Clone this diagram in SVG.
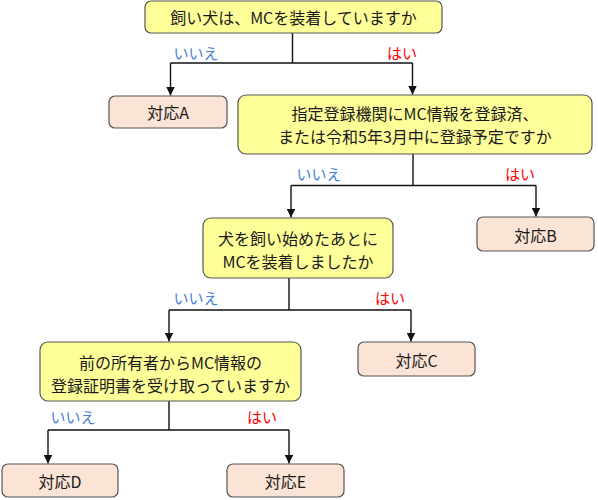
<svg xmlns="http://www.w3.org/2000/svg" width="598" height="500" viewBox="0 0 598 500">
<defs>
<style>
.q{fill:#FFFF99;stroke:#555;stroke-width:1.2}
.a{fill:#FBE4D5;stroke:#555;stroke-width:1.2}
.t{font-family:"Noto Sans CJK JP","Noto Sans",sans-serif;font-size:16px;fill:#1a1a1a;text-anchor:middle;dominant-baseline:central}
.no{font-family:"Noto Sans CJK JP","Noto Sans",sans-serif;font-size:15px;fill:#4A7FD6;text-anchor:middle;dominant-baseline:central}
.yes{font-family:"Noto Sans CJK JP","Noto Sans",sans-serif;font-size:15px;fill:#FF0000;text-anchor:middle;dominant-baseline:central}
.c{fill:none;stroke:#111;stroke-width:1.4}
</style>
<marker id="ah" viewBox="0 0 10 10" refX="10" refY="5" markerWidth="9" markerHeight="9" markerUnits="userSpaceOnUse" orient="auto">
<path d="M0,0 L10,5 L0,10 Z" fill="#111"/>
</marker>
</defs>
<rect width="598" height="500" fill="#fff"/>
<g id="connectors">
<path class="c" d="M292.5,33 V63"/>
<path class="c" d="M170.5,63 H412.5"/>
<path class="c" d="M170.5,63 V95.5" marker-end="url(#ah)"/>
<path class="c" d="M412.5,63 V94.5" marker-end="url(#ah)"/>
<path class="c" d="M413,154 V185.5"/>
<path class="c" d="M291,185.5 H536"/>
<path class="c" d="M291,185.5 V217.5" marker-end="url(#ah)"/>
<path class="c" d="M536,185.5 V216.5" marker-end="url(#ah)"/>
<path class="c" d="M289,278 V310"/>
<path class="c" d="M169,310 H411"/>
<path class="c" d="M169,310 V341.5" marker-end="url(#ah)"/>
<path class="c" d="M411,310 V341.5" marker-end="url(#ah)"/>
<path class="c" d="M169,401 V430"/>
<path class="c" d="M48,430 H289"/>
<path class="c" d="M48,430 V463.5" marker-end="url(#ah)"/>
<path class="c" d="M289,430 V463.5" marker-end="url(#ah)"/>
<text class="no" x="196" y="52">いいえ</text>
<text class="yes" x="402" y="52">はい</text>
<text class="no" x="319" y="173">いいえ</text>
<text class="yes" x="520" y="173">はい</text>
<text class="no" x="196" y="297">いいえ</text>
<text class="yes" x="390" y="297">はい</text>
<text class="no" x="73" y="416">いいえ</text>
<text class="yes" x="262" y="416">はい</text>
</g>
<g id="q1">
<rect class="q" x="145" y="1" width="297" height="32" rx="6"/>
<text class="t" x="293.5" y="17">飼い犬は、MCを装着していますか</text>
</g>
<g id="ansA">
<rect class="a" x="109" y="96" width="118" height="32" rx="6"/>
<text class="t" x="168" y="112">対応A</text>
</g>
<g id="q2">
<rect class="q" x="238" y="95" width="354" height="59" rx="8"/>
<text class="t" x="415" y="113">指定登録機関にMC情報を登録済、</text>
<text class="t" x="415" y="136">または令和5年3月中に登録予定ですか</text>
</g>
<g id="ansB">
<rect class="a" x="477" y="217" width="117" height="34" rx="6"/>
<text class="t" x="535.5" y="234.5">対応B</text>
</g>
<g id="q3">
<rect class="q" x="203" y="218" width="190" height="60" rx="8"/>
<text class="t" x="298" y="238">犬を飼い始めたあとに</text>
<text class="t" x="298" y="261">MCを装着しましたか</text>
</g>
<g id="ansC">
<rect class="a" x="358" y="342" width="117" height="34" rx="6"/>
<text class="t" x="416.5" y="359.5">対応C</text>
</g>
<g id="q4">
<rect class="q" x="40" y="342" width="261" height="59" rx="8"/>
<text class="t" x="170.5" y="362">前の所有者からMC情報の</text>
<text class="t" x="170.5" y="385">登録証明書を受け取っていますか</text>
</g>
<g id="ansD">
<rect class="a" x="2" y="464" width="116" height="33" rx="6"/>
<text class="t" x="60" y="480.5">対応D</text>
</g>
<g id="ansE">
<rect class="a" x="227" y="464" width="117" height="33" rx="6"/>
<text class="t" x="285.5" y="480.5">対応E</text>
</g>
</svg>
